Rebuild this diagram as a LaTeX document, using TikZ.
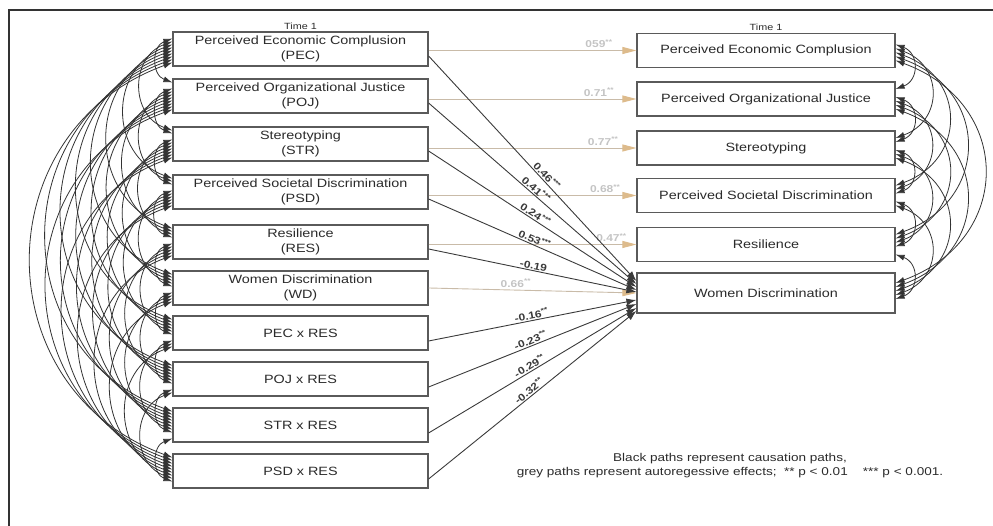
\documentclass[tikz,border=0pt]{standalone}
\usepackage{fontspec}
\setmainfont{Liberation Sans}[FakeStretch=1.2]
\usetikzlibrary{arrows.meta,positioning}
\definecolor{boxline}{HTML}{5A5A5A}
\definecolor{txt}{HTML}{2B2B2B}
\definecolor{arcline}{HTML}{333333}
\definecolor{causeline}{HTML}{3A3A3A}
\definecolor{autoline}{HTML}{C9BBA8}
\definecolor{autohead}{HTML}{DDBB8C}
\definecolor{labgray}{HTML}{C4C4C4}
\tikzset{
  var/.style={draw=boxline, fill=white, line width=1.2pt, minimum width=255pt, minimum height=34pt, inner sep=0pt, align=center, text=txt, font=\fontsize{12}{15}\selectfont},
  var2/.style={var, minimum width=258pt},
  timelab/.style={text=txt, font=\fontsize{9}{11}\selectfont, inner sep=1pt},
  corr/.style={{Latex[length=9pt,width=6pt]}-{Latex[length=9pt,width=6pt]}, draw=arcline, line width=0.8pt},
  cause/.style={-{Latex[length=10pt,width=7pt]}, draw=causeline, line width=0.9pt},
  autor/.style={-{Triangle[length=14pt,width=7pt,color=autohead]}, draw=autoline, line width=0.9pt},
  clab/.style={sloped, above, inner sep=1pt, text=causeline, font=\bfseries\fontsize{10}{11}\selectfont},
  alab/.style={above, inner sep=2pt, text=labgray, font=\bfseries\fontsize{10}{12}\selectfont}
}
\begin{document}
\begin{tikzpicture}[x=1pt,y=1pt]
	\useasboundingbox (0,0) rectangle (993,526);
	\draw[line width=1.2pt, draw=arcline] (9,0) -- (9,516) -- (993,516); %marco
	% Time 1, izquierda
	\node[var] (L1) at (300.5,477) {Perceived Economic Complusion\\(PEC)};
	\node[var] (L2) at (300.5,430) {Perceived Organizational Justice\\(POJ)};
	\node[var] (L3) at (300.5,382) {Stereotyping\\(STR)};
	\node[var] (L4) at (300.5,334) {Perceived Societal Discrimination\\(PSD)};
	\node[var] (L5) at (300.5,284) {Resilience\\(RES)};
	\node[var] (L6) at (300.5,238) {Women Discrimination\\(WD)};
	\node[var] (L7) at (300.5,193) {PEC x RES};
	\node[var] (L8) at (300.5,147) {POJ x RES};
	\node[var] (L9) at (300.5,101) {STR x RES};
	\node[var] (L10) at (300.5,55) {PSD x RES};
	\node[timelab, above=1pt of L1] (tl) {Time 1};
	% Time 1, derecha
	\node[var2] (R1) at (766,475.5) {Perceived Economic Complusion};
	\node[var2] (R2) at (766,427) {Perceived Organizational Justice};
	\node[var2] (R3) at (766,378) {Stereotyping};
	\node[var2] (R4) at (766,330.5) {Perceived Societal Discrimination};
	\node[var2] (R5) at (766,281.5) {Resilience};
	\node[var2, minimum height=40pt] (R6) at (766,233) {Women Discrimination};
	\node[timelab, above=1pt of R1] (tr) {Time 1};
	% covarianzas
	\foreach \i in {1,...,9}{
		\pgfmathtruncatemacro\s{\i+1}
		\foreach \j in {\s,...,10}
			\draw[corr] ([yshift={(5.5-\j)*3pt}]L\i.west) to[out=200,in=160,looseness=1.3] ([yshift={(5.5-\i)*3pt}]L\j.west);
	}
	\foreach \i in {1,...,5}{
		\pgfmathtruncatemacro\s{\i+1}
		\foreach \j in {\s,...,6}
			\draw[corr] ([yshift={(3.5-\j)*4pt}]R\i.east) to[out=-20,in=20,looseness=1.45] ([yshift={(3.5-\i)*4pt}]R\j.east);
	}
	% efectos autorregresivos
	\draw[autor] (L1.east |- R1.west) -- (R1.west) node[alab, pos=0.82] {059\textsuperscript{**}};
	\draw[autor] (L2.east |- R2.west) -- (R2.west) node[alab, pos=0.82] {0.71\textsuperscript{**}};
	\draw[autor] (L3.east |- R3.west) -- (R3.west) node[alab, pos=0.84] {0.77\textsuperscript{**}};
	\draw[autor] (L4.east |- R4.west) -- (R4.west) node[alab, pos=0.85] {0.68\textsuperscript{**}};
	\draw[autor] (L5.east |- R5.west) -- (R5.west) node[alab, pos=0.88] {0.47\textsuperscript{**}};
	\draw[autor] (L6.east) -- (R6.west) node[alab, pos=0.42] {0.66\textsuperscript{**}};
	% efectos causales
	\draw[cause] ([yshift=-7pt]L1.east) -- ([yshift=12pt]R6.west) node[clab, pos=0.55] {0.46\textsuperscript{***}};
	\draw[cause] ([yshift=-7pt]L2.east) -- ([yshift=9pt]R6.west) node[clab, pos=0.5] {0.41\textsuperscript{***}};
	\draw[cause] ([yshift=-7pt]L3.east) -- ([yshift=6pt]R6.west) node[clab, pos=0.5] {0.24\textsuperscript{***}};
	\draw[cause] ([yshift=-7pt]L4.east) -- ([yshift=3pt]R6.west) node[clab, pos=0.5] {0.53\textsuperscript{***}};
	\draw[cause] ([yshift=-7pt]L5.east) -- ([yshift=1pt]R6.west) node[clab, pos=0.5] {-0.19};
	\draw[cause] ([yshift=-8pt]L7.east) -- ([yshift=-7pt]R6.west) node[clab, pos=0.5] {-0.16\textsuperscript{**}};
	\draw[cause] ([yshift=-8pt]L8.east) -- ([yshift=-11pt]R6.west) node[clab, pos=0.5] {-0.23\textsuperscript{**}};
	\draw[cause] ([yshift=-8pt]L9.east) -- ([yshift=-15pt]R6.west) node[clab, pos=0.5] {-0.29\textsuperscript{**}};
	\draw[cause] ([yshift=-8pt]L10.east) -- ([yshift=-18pt]R6.west) node[clab, pos=0.5] {-0.32\textsuperscript{**}};
	\node[align=center, text=txt, font=\fontsize{11.3}{14}\selectfont] (nota) at (730,60) {Black paths represent causation paths,\\grey paths represent autoregessive effects;\ \ ** p < 0.01\quad\ *** p < 0.001.};
\end{tikzpicture}
\end{document}
